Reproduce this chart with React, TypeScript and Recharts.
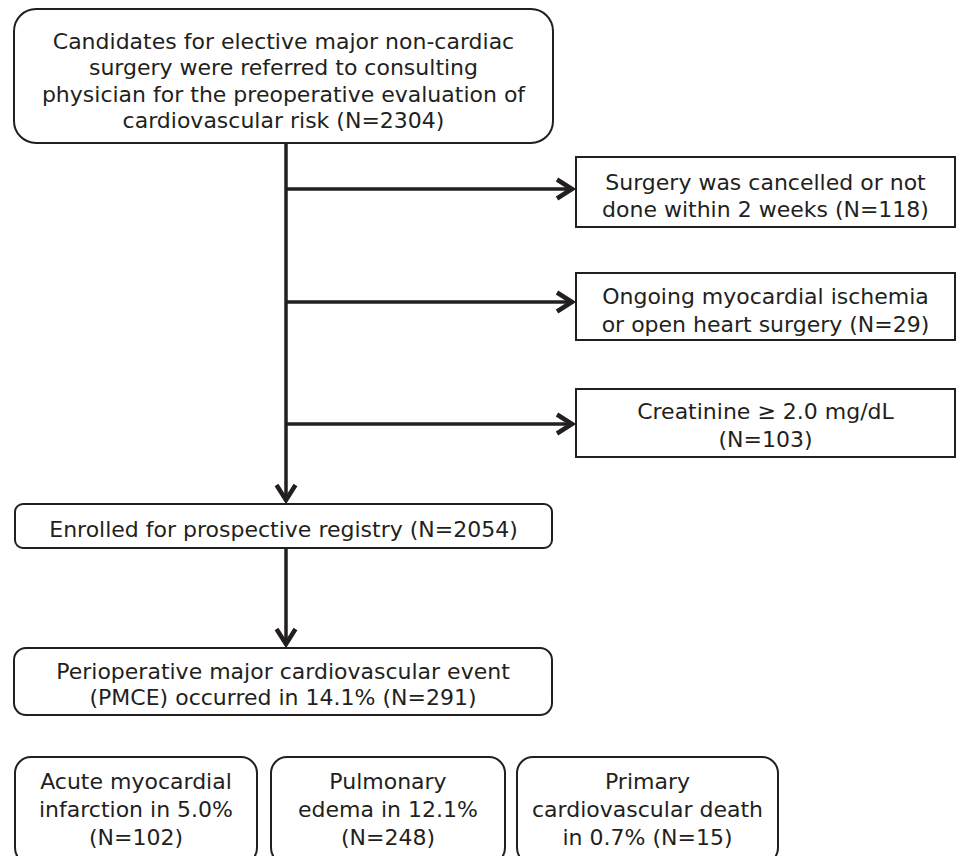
import React from 'react';
import { ComposedChart, XAxis, YAxis, ReferenceArea, ReferenceLine } from 'recharts';

// ---------- data (text content of the flowchart) ----------
const sourceLines = [
  'Candidates for elective major non-cardiac',
  'surgery were referred to consulting',
  'physician for the preoperative evaluation of',
  'cardiovascular risk (N=2304)',
];
const exclusionLines = [
  ['Surgery was cancelled or not', 'done within 2 weeks (N=118)'],
  ['Ongoing myocardial ischemia', 'or open heart surgery (N=29)'],
  ['Creatinine \u2265 2.0 mg/dL', '(N=103)'],
];
const enrolledLines = ['Enrolled for prospective registry (N=2054)'];
const eventLines = [
  'Perioperative major cardiovascular event',
  '(PMCE) occurred in 14.1% (N=291)',
];
const outcomeLines = [
  ['Acute myocardial', 'infarction in 5.0%', '(N=102)'],
  ['Pulmonary', 'edema in 12.1%', '(N=248)'],
  ['Primary', 'cardiovascular death', 'in 0.7% (N=15)'],
];

// ---------- layout (chart units, 1 unit = 1 px) ----------
const W = 960;
const H = 856;
const INK = '#231f20';
const FONT = 'DejaVu Sans, Verdana, sans-serif';
const FS = 22;

type NodeLayout = { lines: string[]; x1: number; x2: number; y1: number; y2: number; r: number; lh: number; dy: number };

const nodes: NodeLayout[] = [
  { lines: sourceLines, x1: 14, x2: 553, y1: 9, y2: 143, r: 22, lh: 26.5, dy: 5 },
  { lines: exclusionLines[0], x1: 576, x2: 955, y1: 157, y2: 227, r: 0, lh: 27.5, dy: 4 },
  { lines: exclusionLines[1], x1: 576, x2: 955, y1: 273, y2: 340, r: 0, lh: 27.5, dy: 4 },
  { lines: exclusionLines[2], x1: 576, x2: 955, y1: 389, y2: 457, r: 0, lh: 28, dy: 2 },
  { lines: enrolledLines, x1: 15, x2: 552, y1: 504, y2: 548, r: 8, lh: 27, dy: 3 },
  { lines: eventLines, x1: 14, x2: 552, y1: 648, y2: 715, r: 12, lh: 26.5, dy: 3 },
  { lines: outcomeLines[0], x1: 15, x2: 257, y1: 757, y2: 864, r: 16, lh: 28, dy: -1 },
  { lines: outcomeLines[1], x1: 271, x2: 505, y1: 757, y2: 864, r: 16, lh: 28, dy: -1 },
  { lines: outcomeLines[2], x1: 517, x2: 778, y1: 757, y2: 864, r: 16, lh: 28, dy: -1 },
];

const TRUNK_X = 286;
type Seg = { a: { x: number; y: number }; b: { x: number; y: number } };
const arrows: Seg[] = [
  { a: { x: TRUNK_X, y: 143 }, b: { x: TRUNK_X, y: 503 } },
  { a: { x: TRUNK_X, y: 189 }, b: { x: 575, y: 189 } },
  { a: { x: TRUNK_X, y: 302 }, b: { x: 575, y: 302 } },
  { a: { x: TRUNK_X, y: 424 }, b: { x: 575, y: 424 } },
  { a: { x: TRUNK_X, y: 548 }, b: { x: TRUNK_X, y: 647 } },
];

const makeBoxShape = (n: NodeLayout) => (props: any) => {
  const { x, y, width, height } = props;
  const cx = x + width / 2;
  const cy = y + height / 2 + n.dy;
  const k = n.lines.length;
  return (
    <g>
      <rect x={x} y={y} width={width} height={height} rx={n.r} ry={n.r}
        fill="#fff" stroke={INK} strokeWidth={2} />
      {n.lines.map((t, i) => (
        <text key={i} x={cx} y={cy + (i - (k - 1) / 2) * n.lh} textAnchor="middle"
          dominantBaseline="central" fontFamily={FONT} fontSize={FS} fill={INK}>
          {t}
        </text>
      ))}
    </g>
  );
};

const arrowShape = (props: any) => {
  const { x1, y1, x2, y2 } = props;
  const dx = x2 - x1;
  const dy = y2 - y1;
  const len = Math.sqrt(dx * dx + dy * dy) || 1;
  const ux = dx / len;
  const uy = dy / len;
  const px = -uy;
  const py = ux;
  const tipX = x2 - ux * 3;
  const tipY = y2 - uy * 3;
  const L = 15;
  const Wd = 9.5;
  const p1 = `${tipX - ux * L + px * Wd},${tipY - uy * L + py * Wd}`;
  const p2 = `${tipX - ux * L - px * Wd},${tipY - uy * L - py * Wd}`;
  return (
    <g>
      <line x1={x1} y1={y1} x2={tipX} y2={tipY} stroke={INK} strokeWidth={3.5} />
      <polyline points={`${p1} ${tipX},${tipY} ${p2}`} fill="none" stroke={INK}
        strokeWidth={4.5} strokeLinejoin="miter" strokeLinecap="butt" />
    </g>
  );
};

export default function App() {
  return (
    <div style={{ position: 'absolute', left: 0, top: 0, width: W, height: H, background: '#fff' }}>
      <ComposedChart width={W} height={H} data={[]} margin={{ top: 0, right: 0, bottom: 0, left: 0 }}>
        <XAxis type="number" dataKey="x" domain={[0, W]} hide allowDataOverflow />
        <YAxis type="number" dataKey="y" domain={[0, H]} reversed hide allowDataOverflow />
        {arrows.map((s, i) => (
          <ReferenceLine key={`a${i}`} segment={[s.a, s.b]} ifOverflow="visible" shape={arrowShape} />
        ))}
        {nodes.map((n, i) => (
          <ReferenceArea key={`n${i}`} x1={n.x1} x2={n.x2} y1={n.y1} y2={n.y2}
            ifOverflow="visible" shape={makeBoxShape(n)} />
        ))}
      </ComposedChart>
    </div>
  );
}
